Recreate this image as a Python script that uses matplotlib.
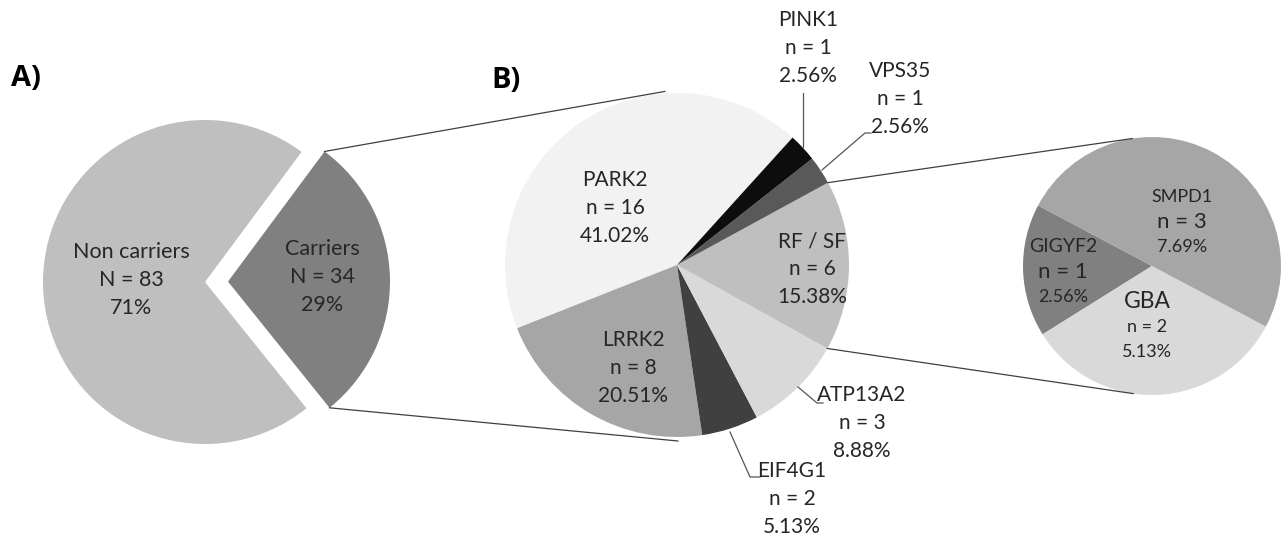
import numpy as np
import matplotlib
matplotlib.use("Agg")
import matplotlib.pyplot as plt

plt.rcParams['font.family'] = ['Lato', 'DejaVu Sans']

# A) carriers vs non carriers
grp_labels = ["Carriers", "Non carriers"]
grp_n = [34, 83]
grp_pct = ["29%", "71%"]

# B) genes among carriers (slice sizes follow the printed percentages)
gene_labels = ["PARK2", "LRRK2", "EIF4G1", "ATP13A2", "RF / SF", "VPS35", "PINK1"]
gene_n = [16, 8, 2, 3, 6, 1, 1]
gene_pct = [41.02, 20.51, 5.13, 8.88, 15.38, 2.56, 2.56]

# RF / SF breakdown
rf_labels = ["GIGYF2", "GBA", "SMPD1"]
rf_n = [1, 2, 3]
rf_pct = [2.56, 5.13, 7.69]

W, H = 1287, 545
fig = plt.figure(figsize=(W / 100, H / 100), dpi=100)
ax = fig.add_axes([0, 0, 1, 1])

def P(x, y):
    # picture coords (y from top) -> data coords
    return x, H - y

def edge(c, r, ang):
    return c[0] + r * np.cos(np.radians(ang)), c[1] + r * np.sin(np.radians(ang))

# --- pie A
cA, rA = P(205, 282), 162
wA, _ = ax.pie(grp_n, colors=['#808080', '#bfbfbf'], startangle=-51.2,
               explode=[23, 0], center=cA, radius=rA,
               wedgeprops=dict(linewidth=0))

# --- pie B
cB, rB = P(677, 265), 172
wB, _ = ax.pie(gene_pct, colors=['#f2f2f2', '#a6a6a6', '#404040', '#d9d9d9',
                                 '#bfbfbf', '#595959', '#0d0d0d'],
               startangle=47.8, center=cB, radius=rB,
               wedgeprops=dict(linewidth=0))

# --- pie C
cC, rC = P(1152, 266), 129
wC, _ = ax.pie(rf_n, colors=['#808080', '#d9d9d9', '#a6a6a6'],
               startangle=152, center=cC, radius=rC,
               wedgeprops=dict(linewidth=0))

lc = '#404040'
# connector lines A -> B
car = wA[0]
p1 = edge(car.center, car.r, car.theta2)
p2 = edge(car.center, car.r, car.theta1)
ax.plot(*zip(p1, edge(cB, rB + 2, 94)), color=lc, lw=0.9)
ax.plot(*zip(p2, edge(cB, rB + 4, -89.7)), color=lc, lw=0.9)

# connector lines B -> C
rf = wB[4]
q1 = edge(cB, rB, rf.theta2)
q2 = edge(cB, rB, rf.theta1)
ax.plot(*zip(q1, edge(cC, rC, 98.8)), color=lc, lw=0.9)
ax.plot(*zip(q2, edge(cC, rC, 261.6)), color=lc, lw=0.9)

# leader lines for the small slices
leaders = [
    [(803, 147), (803, 93)],
    [(822, 170), (865, 133), (871, 133)],
    [(798, 387), (817, 403), (823, 403)],
    [(730, 432), (750, 477), (760, 477)],
]
for pts in leaders:
    xs, ys = zip(*[P(x, y) for x, y in pts])
    ax.plot(xs, ys, color='#555555', lw=0.9)

tc = '#262626'
fs = 15.5
# pie A labels
ax.text(*P(131, 280), "%s\nN = %d\n%s" % (grp_labels[1], grp_n[1], grp_pct[1]),
        ha='center', va='center', fontsize=fs, color=tc, linespacing=1.5)
ax.text(*P(322, 277), "%s\nN = %d\n%s" % (grp_labels[0], grp_n[0], grp_pct[0]),
        ha='center', va='center', fontsize=fs, color=tc, linespacing=1.5)

# pie B labels
fsB = 15
posB = [(615, 208), (633, 368), (792, 499), (862, 423), (812, 269), (900, 99), (808, 48)]
for lab, n, pc, (x, y) in zip(gene_labels, gene_n, gene_pct, posB):
    ax.text(*P(x, y), "%s\nn = %d\n%.2f%%" % (lab, n, pc),
            ha='center', va='center', fontsize=fsB, color=tc, linespacing=1.5)

# pie C labels (mixed sizes, row by row)
posC = [(1063, 247), (1147, 302), (1182, 197)]
sizesC = [[14, 16, 13], [16.5, 13, 13], [13, 16, 13]]
for lab, n, pc, (x, y), szs in zip(rf_labels, rf_n, rf_pct, posC, sizesC):
    rows = [lab, "n = %d" % n, "%.2f%%" % pc]
    for k, (row, s) in enumerate(zip(rows, szs)):
        ax.text(*P(x, y + 25 * k), row, ha='center', va='center',
                fontsize=s, color=tc)

ax.text(*P(26, 79), "A)", ha='center', va='center', fontsize=21,
        fontweight='bold', family=['Open Sans', 'DejaVu Sans'], color='black')
ax.text(*P(506, 80), "B)", ha='center', va='center', fontsize=21,
        fontweight='bold', family=['Open Sans', 'DejaVu Sans'], color='black')

ax.set_xlim(0, W)
ax.set_ylim(0, H)
ax.set_aspect('auto')
ax.axis('off')
fig.savefig("out.png", dpi=100)
